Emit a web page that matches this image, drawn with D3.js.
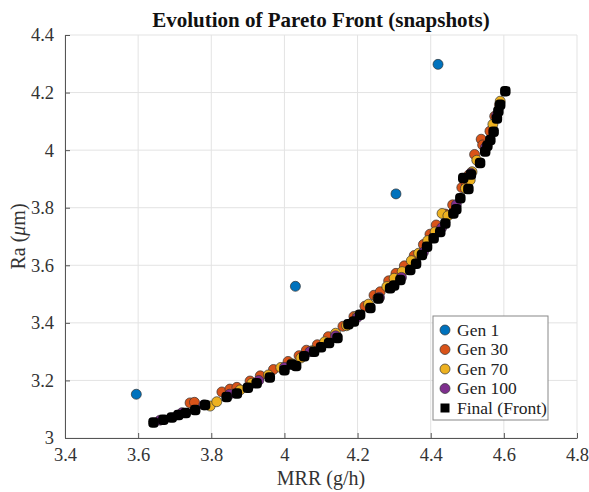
<!DOCTYPE html>
<html>
<head>
<meta charset="utf-8">
<script src="https://cdn.jsdelivr.net/npm/d3@7"></script>
<style>
  body { margin: 0; background: #fff; }
  svg text { font-family: "Liberation Serif", "Times New Roman", "DejaVu Serif", serif !important; }
</style>
</head>
<body>
<div id="chart"></div>
<script>
// Pareto front snapshots: [MRR, Ra]
const gen1 = [[3.595, 3.152], [4.03, 3.527], [4.305, 3.848], [4.42, 4.298]];

const gen30 = [[3.742, 3.122], [3.754, 3.124], [3.829, 3.160], [3.851, 3.170], [3.870, 3.176],
  [3.906, 3.198], [3.934, 3.216], [3.97, 3.238], [4.01, 3.266], [4.04, 3.286], [4.06, 3.305],
  [4.09, 3.324], [4.12, 3.352], [4.16, 3.388], [4.19, 3.422], [4.22, 3.458], [4.245, 3.496],
  [4.262, 3.508], [4.285, 3.546], [4.305, 3.572], [4.328, 3.598], [4.355, 3.634], [4.38, 3.672],
  [4.398, 3.708], [4.415, 3.74], [4.44, 3.778], [4.46, 3.81], [4.485, 3.87], [4.497, 3.885],
  [4.505, 3.915], [4.52, 3.985], [4.538, 4.038], [4.542, 4.018], [4.562, 4.066], [4.575, 4.118],
  [4.588, 4.158]];

const gen70 = [[3.797, 3.111], [3.815, 3.126], [3.879, 3.167], [3.911, 3.19], [3.956, 3.219],
  [3.99, 3.245], [4.02, 3.258], [4.045, 3.278], [4.075, 3.303], [4.11, 3.334], [4.14, 3.364],
  [4.17, 3.39], [4.20, 3.425], [4.23, 3.465], [4.255, 3.486], [4.28, 3.526], [4.30, 3.555],
  [4.322, 3.578], [4.347, 3.616], [4.367, 3.642], [4.392, 3.686], [4.412, 3.716], [4.431, 3.78],
  [4.447, 3.772], [4.495, 3.867], [4.508, 3.896], [4.513, 3.925], [4.526, 3.965], [4.57, 4.09],
  [4.59, 4.17]];

const gen100 = [[3.66, 3.062], [3.72, 3.088], [3.78, 3.115], [3.85, 3.152], [3.93, 3.2],
  [4.0, 3.245], [4.07, 3.3], [4.14, 3.355], [4.2, 3.42], [4.26, 3.488], [4.32, 3.558],
  [4.38, 3.645], [4.43, 3.73], [4.47, 3.81], [4.51, 3.92], [4.55, 4.01], [4.58, 4.12]];

const finalFront = [[3.642, 3.054], [3.669, 3.063], [3.692, 3.071], [3.710, 3.080], [3.73, 3.087],
  [3.756, 3.097], [3.783, 3.115], [3.842, 3.142], [3.87, 3.155], [3.90, 3.175], [3.924, 3.19],
  [3.96, 3.21], [4.00, 3.235], [4.02, 3.255], [4.032, 3.25], [4.054, 3.284], [4.081, 3.3],
  [4.10, 3.315], [4.122, 3.33], [4.145, 3.347], [4.175, 3.395], [4.19, 3.405], [4.207, 3.428],
  [4.235, 3.452], [4.257, 3.485], [4.289, 3.52], [4.30, 3.53], [4.317, 3.549], [4.344, 3.584],
  [4.36, 3.605], [4.376, 3.636], [4.39, 3.664], [4.408, 3.694], [4.426, 3.716], [4.44, 3.745],
  [4.462, 3.78], [4.47, 3.795], [4.481, 3.833], [4.489, 3.903], [4.503, 3.865], [4.51, 3.915],
  [4.535, 3.955], [4.549, 3.995], [4.555, 4.015], [4.563, 4.035], [4.572, 4.064], [4.581, 4.11],
  [4.585, 4.135], [4.590, 4.158], [4.604, 4.205]];

const xTicks = [3.4, 3.6, 3.8, 4, 4.2, 4.4, 4.6, 4.8];
const yTicks = [3, 3.2, 3.4, 3.6, 3.8, 4, 4.2, 4.4];
const legendNames = ['Gen 1', 'Gen 30', 'Gen 70', 'Gen 100', 'Final (Front)'];
const legendColors = ['#0072BD', '#D95319', '#EDB120', '#7E2F8E', '#000000'];

const W = 589, H = 492;
const margin = { top: 35, right: 12, bottom: 54, left: 65 };
const width = W - margin.left - margin.right;
const height = H - margin.top - margin.bottom;
const serif = '"Liberation Serif", "Times New Roman", "DejaVu Serif", serif';

const svg = d3.select('#chart').append('svg')
    .attr('width', W)
    .attr('height', H)
    .attr('font-family', serif);

const g = svg.append('g')
    .attr('transform', `translate(${margin.left},${margin.top})`);

const x = d3.scaleLinear().domain([3.4, 4.8]).range([0, width]);
const y = d3.scaleLinear().domain([3, 4.4]).range([height, 0]);

// grid
g.append('g').selectAll('line').data(xTicks).join('line')
    .attr('x1', d => x(d)).attr('x2', d => x(d))
    .attr('y1', 0).attr('y2', height)
    .attr('stroke', '#e3e3e3').attr('stroke-width', 1);
g.append('g').selectAll('line').data(yTicks).join('line')
    .attr('y1', d => y(d)).attr('y2', d => y(d))
    .attr('x1', 0).attr('x2', width)
    .attr('stroke', '#e3e3e3').attr('stroke-width', 1);

// axes
const xAxis = g.append('g')
    .attr('transform', `translate(0,${height})`)
    .call(d3.axisBottom(x).tickValues(xTicks).tickSizeInner(-5).tickSizeOuter(0).tickPadding(10).tickFormat(d3.format('')));
const yAxis = g.append('g')
    .call(d3.axisLeft(y).tickValues(yTicks).tickSizeInner(-5).tickSizeOuter(0).tickPadding(11).tickFormat(d3.format('')));

[xAxis, yAxis].forEach(a => {
    a.attr('font-family', serif);
    a.select('.domain').attr('stroke', '#555');
    a.selectAll('.tick line').attr('stroke', '#555');
    a.selectAll('.tick text').attr('fill', '#333').style('font-size', '18.5px').style('font-family', serif);
});

// series
function drawCircles(data, color) {
    g.append('g').selectAll('circle').data(data).join('circle')
        .attr('cx', d => x(d[0]))
        .attr('cy', d => y(d[1]))
        .attr('r', 5)
        .attr('fill', color)
        .attr('stroke', '#333')
        .attr('stroke-width', 0.7);
}
drawCircles(gen1, legendColors[0]);
drawCircles(gen30, legendColors[1]);
drawCircles(gen70, legendColors[2]);
drawCircles(gen100, legendColors[3]);

g.append('g').selectAll('rect').data(finalFront).join('rect')
    .attr('x', d => x(d[0]) - 5.25)
    .attr('y', d => y(d[1]) - 5.25)
    .attr('width', 10.5)
    .attr('height', 10.5)
    .attr('rx', 4)
    .attr('fill', '#000');

// title and labels
svg.append('text')
    .attr('x', 321).attr('y', 27)
    .attr('text-anchor', 'middle')
    .style('font-family', serif)
    .style('font-size', '21px')
    .style('font-weight', 'bold')
    .attr('fill', '#111')
    .text('Evolution of Pareto Front (snapshots)');

svg.append('text')
    .attr('x', margin.left + width / 2).attr('y', 485)
    .attr('text-anchor', 'middle')
    .style('font-family', serif)
    .style('font-size', '20px')
    .attr('fill', '#333')
    .text('MRR (g/h)');

const yl = svg.append('text')
    .attr('transform', `translate(25,${margin.top + height / 2}) rotate(-90)`)
    .attr('text-anchor', 'middle')
    .style('font-family', serif)
    .style('font-size', '20px')
    .attr('fill', '#333');
yl.append('tspan').text('Ra (');
yl.append('tspan').style('font-style', 'italic').text('\u03bc');
yl.append('tspan').text('m)');

// legend
const legend = svg.append('g').attr('transform', 'translate(433,316)');
legend.append('rect')
    .attr('width', 115).attr('height', 104)
    .attr('fill', '#fff')
    .attr('stroke', '#888')
    .attr('stroke-width', 1);
legendNames.forEach((name, i) => {
    const item = legend.append('g').attr('transform', `translate(12,${14 + i * 19.5})`);
    if (i < 4) {
        item.append('circle').attr('r', 5).attr('fill', legendColors[i])
            .attr('stroke', '#333').attr('stroke-width', 0.7);
    } else {
        item.append('rect').attr('x', -4.5).attr('y', -4.5).attr('width', 9).attr('height', 9)
            .attr('fill', '#000');
    }
    item.append('text').attr('x', 12).attr('y', 5.5)
        .style('font-family', serif)
        .style('font-size', '17.5px').attr('fill', '#222')
        .text(name);
});
</script>
</body>
</html>
